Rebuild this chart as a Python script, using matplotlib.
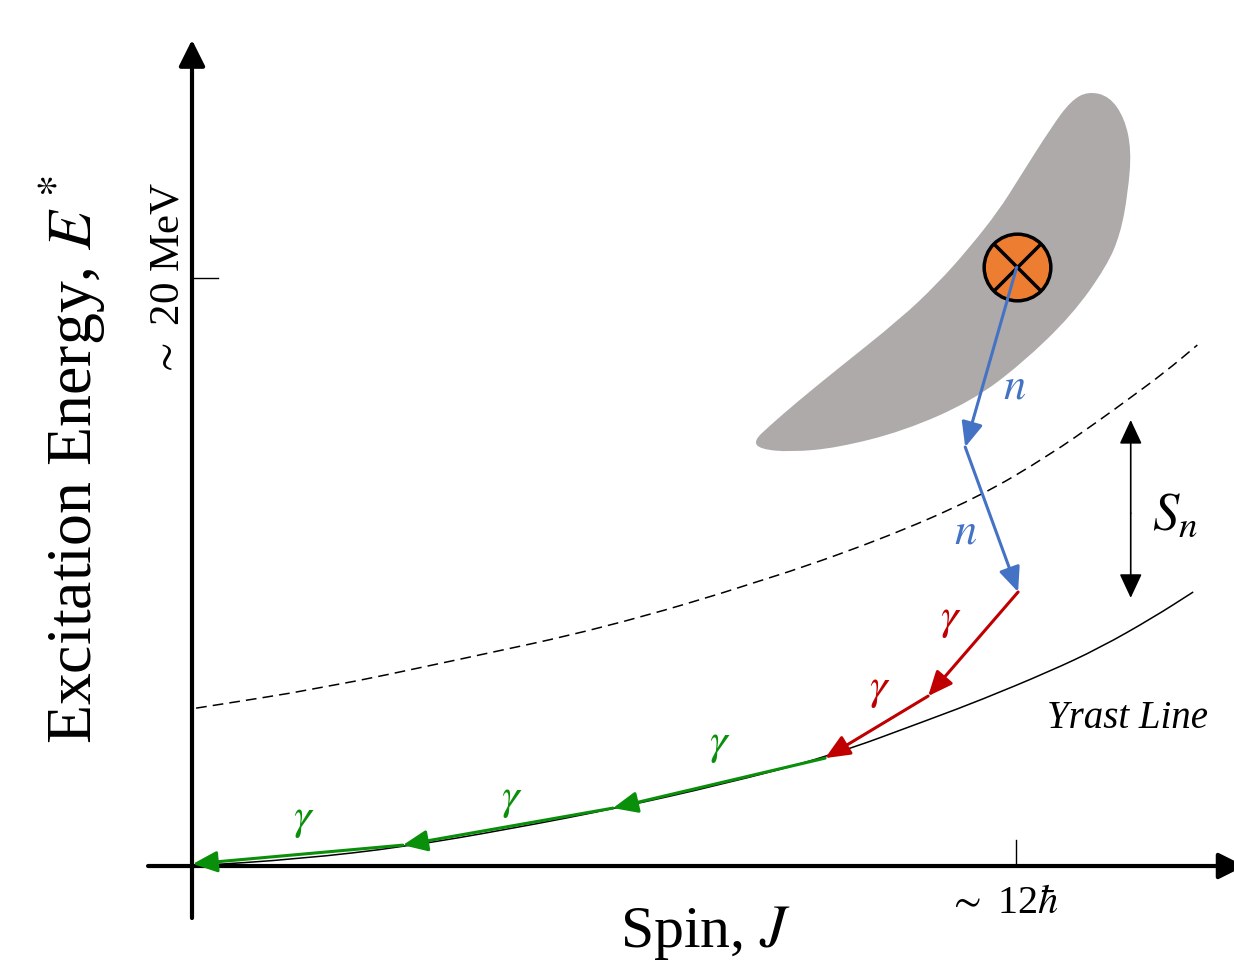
import numpy as np
import matplotlib.pyplot as plt
from matplotlib.patches import FancyArrowPatch, PathPatch
from matplotlib.path import Path

plt.rcParams['font.family'] = 'Liberation Serif'
plt.rcParams['mathtext.fontset'] = 'stix'

# spin (hbar) and excitation energy (MeV)
yrast_j = [0.0, 1.57, 3.10, 4.63, 6.19, 7.69, 9.26, 10.79, 11.48, 12.49, 13.22, 13.99, 14.58]
yrast_e = [0.0, 0.24, 0.65, 1.26, 1.97, 2.76, 3.71, 5.03, 5.64, 6.62, 7.42, 8.44, 9.32]

sn_j = [0.06, 1.91, 3.86, 6.01, 8.27, 10.02, 11.46, 12.49, 13.22, 13.66, 14.17, 14.64]
sn_e = [5.37, 6.05, 7.01, 8.10, 9.66, 11.09, 12.55, 13.98, 15.17, 15.92, 16.80, 17.72]

blob_j = [13.05, 13.36, 13.58, 13.68, 13.63, 13.52, 13.32, 12.82, 12.08, 11.36, 10.37, 9.39, 8.71,
          8.27, 8.18, 8.40, 8.82, 9.36, 10.32, 10.86, 11.31, 11.75, 12.04, 12.52, 12.80]
blob_e = [26.35, 26.18, 25.44, 24.35, 22.90, 21.50, 20.40, 18.75, 17.08, 15.82, 14.80, 14.22, 14.08,
          14.18, 14.46, 14.95, 15.80, 16.83, 18.62, 19.82, 21.00, 22.30, 23.38, 25.15, 26.03]

# decay cascade: states and the particle emitted in each step
casc_j = [12.01, 11.26, 12.03, 10.72, 9.22, 6.13, 3.07, 0.01]
casc_e = [20.37, 14.25, 9.32, 5.78, 3.67, 1.97, 0.71, 0.07]
steps = ['n', 'n', 'g', 'g', 'g', 'g', 'g']
step_col = ['#4472C4', '#4472C4', '#C00000', '#C00000', '#0A8F0A', '#0A8F0A', '#0A8F0A']

fig = plt.figure(figsize=(12.34, 9.69), dpi=100)
ax = fig.add_axes([0, 0, 1, 1])
ax.set_xlim(-2.796, 15.174)
ax.set_ylim(-3.503, 29.456)
ax.axis('off')


def smooth_path(xs, ys, closed=False):
    # read points used as quadratic bezier controls, curve passes through midpoints
    p = np.column_stack([xs, ys])
    mids = (p + np.roll(p, -1, axis=0)) / 2
    if closed:
        verts = [mids[-1]]
        codes = [Path.MOVETO]
        for i in range(len(p)):
            verts += [p[i], mids[i]]
            codes += [Path.CURVE3, Path.CURVE3]
        verts.append(mids[-1])
        codes.append(Path.CLOSEPOLY)
    else:
        verts = [p[0], mids[0]]
        codes = [Path.MOVETO, Path.LINETO]
        for i in range(1, len(p) - 1):
            verts += [p[i], mids[i]]
            codes += [Path.CURVE3, Path.CURVE3]
        verts.append(p[-1])
        codes.append(Path.LINETO)
    return Path(verts, codes)


def arrow(p0, p1, color, lw, hl, hw, style='-|>', z=5):
    a = FancyArrowPatch(p0, p1, arrowstyle=f'{style},head_length={hl},head_width={hw}',
                        mutation_scale=1, color=color, lw=lw, shrinkA=0, shrinkB=0, zorder=z)
    ax.add_patch(a)


# compound nucleus region
ax.add_patch(PathPatch(smooth_path(blob_j, blob_e, closed=True), fc='#AEAAAA', ec='none',
                       zorder=1))

ax.add_patch(PathPatch(smooth_path(yrast_j, yrast_e), fc='none', ec='black', lw=1.1, zorder=2))
ax.add_patch(PathPatch(smooth_path(sn_j, sn_e), fc='none', ec='black', lw=1.1,
                       ls=(0, (7, 4)), zorder=2))

# axes
arrow((-0.64, 0), (15.33, 0), 'black', 3, 16, 8, z=3)
arrow((0, -1.77), (0, 28.1), 'black', 3, 16, 8, z=3)
ax.plot([0, 0.38], [20, 20], color='black', lw=1, zorder=3)
ax.plot([12, 12], [0, 0.88], color='black', lw=1, zorder=3)

# S_n bracket
arrow((13.67, 12.0), (13.67, 15.17), 'black', 1.2, 15, 7, z=3)
arrow((13.67, 12.0), (13.67, 9.12), 'black', 1.2, 15, 7, z=3)

for i in range(len(steps)):
    arrow((casc_j[i], casc_e[i]), (casc_j[i + 1], casc_e[i + 1]), step_col[i], 2.2, 15, 6.5)

ax.plot(casc_j[0], casc_e[0], 'o', ms=48, mfc='#ED7D31', mec='black', mew=2.5, zorder=4)
ax.plot(casc_j[0], casc_e[0], 'x', ms=34, mec='black', mew=2.5, zorder=4)

lab_pos = [(11.98, 16.26), (11.26, 11.33), (11.05, 8.37), (10.02, 5.99),
           (7.69, 4.12), (4.66, 2.24), (1.62, 1.56)]
for (x, y), s, c in zip(lab_pos, steps, step_col):
    t = r'$n$' if s == 'n' else r'$\gamma$'
    ax.text(x, y, t, color=c, fontsize=32, ha='center', va='center')

ax.text(14.31, 11.87, r'$S_n$', fontsize=38, ha='center', va='center')
ax.text(13.63, 5.03, 'Yrast Line', fontsize=28, style='italic', ha='center', va='center')
ax.text(11.82, -1.26, r'$\sim$ 12$\hbar$', fontsize=29, ha='center', va='center')
ax.text(-0.35, 19.93, r'$\sim$ 20 MeV', fontsize=31, rotation=90, ha='center', va='center')
ax.text(7.47, -2.28, r'Spin, $J$', fontsize=43, ha='center', va='center')
ax.text(-1.75, 13.81, r'Excitation Energy, $E^*$', fontsize=46, rotation=90,
        ha='center', va='center')

fig.savefig('out.png', dpi=100)
